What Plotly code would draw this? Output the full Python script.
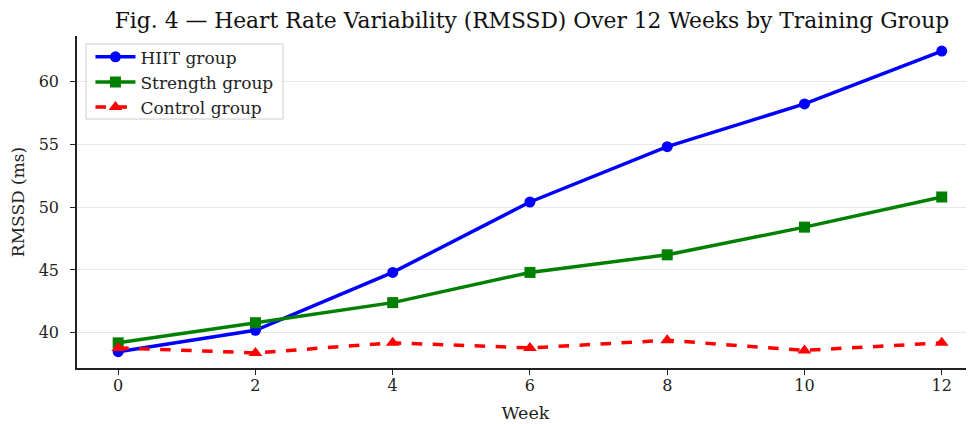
import plotly.graph_objects as go

weeks = [0, 2, 4, 6, 8, 10, 12]
hiit = [38.5, 40.2, 44.8, 50.4, 54.8, 58.2, 62.4]
strength = [39.2, 40.8, 42.4, 44.8, 46.2, 48.4, 50.8]
control = [38.8, 38.4, 39.2, 38.8, 39.4, 38.6, 39.2]
x_ticks = [0, 2, 4, 6, 8, 10, 12]
y_ticks = [40, 45, 50, 55, 60]

FONT = "DejaVu Serif"

fig = go.Figure()
fig.add_trace(go.Scatter(x=weeks, y=hiit, name="HIIT group", mode="lines+markers",
                         line=dict(color="#0000ff", width=3.5),
                         marker=dict(symbol="circle", size=11, color="#0000ff")))
fig.add_trace(go.Scatter(x=weeks, y=strength, name="Strength group", mode="lines+markers",
                         line=dict(color="#008000", width=3.5),
                         marker=dict(symbol="square", size=11, color="#008000")))
fig.add_trace(go.Scatter(x=weeks, y=control, name="Control group", mode="lines+markers",
                         line=dict(color="#ff0000", width=3.5, dash="dash"),
                         marker=dict(symbol="triangle-up", size=12, color="#ff0000")))

# page body has an 8px margin; figure sized to fit the window
fig.update_layout(
    width=966, height=416,
    margin=dict(l=69, r=0, t=28, b=56),
    paper_bgcolor="white", plot_bgcolor="white",
    font=dict(family=FONT, size=16, color="#222222"),
    title=dict(text="Fig. 4 — Heart Rate Variability (RMSSD) Over 12 Weeks by Training Group",
               x=0.5424, xanchor="center", y=0.971, yanchor="middle",
               font=dict(family=FONT, size=21.8, color="#111111")),
    legend=dict(x=0.015, y=0.99, xanchor="left", yanchor="top",
                bgcolor="rgba(0,0,0,0)", borderwidth=0,
                font=dict(family=FONT, size=17, color="#222222"),
                itemwidth=40, tracegroupgap=0),
    showlegend=True,
    shapes=[dict(type="rect", xref="x domain", yref="y domain",
                 x0=0.01, x1=0.2297, y0=0.75, y1=0.976,
                 line=dict(color="#cccccc", width=1), fillcolor="rgba(255,255,255,0.8)",
                 layer="above")],
)
fig.update_xaxes(range=[-0.6, 12.47], tickvals=x_ticks, ticks="outside", ticklen=5,
                 tickcolor="#222222", showline=True, linecolor="#222222", linewidth=1.5,
                 showgrid=False, zeroline=False, automargin=False, ticklabelstandoff=-3,
                 title=dict(text="Week", font=dict(family=FONT, size=17.5), standoff=13),
                 tickfont=dict(family=FONT, size=16))
fig.update_yaxes(range=[37.2, 63.6], tickvals=y_ticks, ticks="outside", ticklen=5,
                 tickcolor="#222222", showline=True, linecolor="#222222", linewidth=1.5,
                 showgrid=True, gridcolor="#e8e8e8", gridwidth=1, zeroline=False,
                 automargin=False, ticklabelstandoff=8,
                 title=dict(text="RMSSD (ms)", font=dict(family=FONT, size=17), standoff=10),
                 tickfont=dict(family=FONT, size=16))

fig.write_html("out.html")
